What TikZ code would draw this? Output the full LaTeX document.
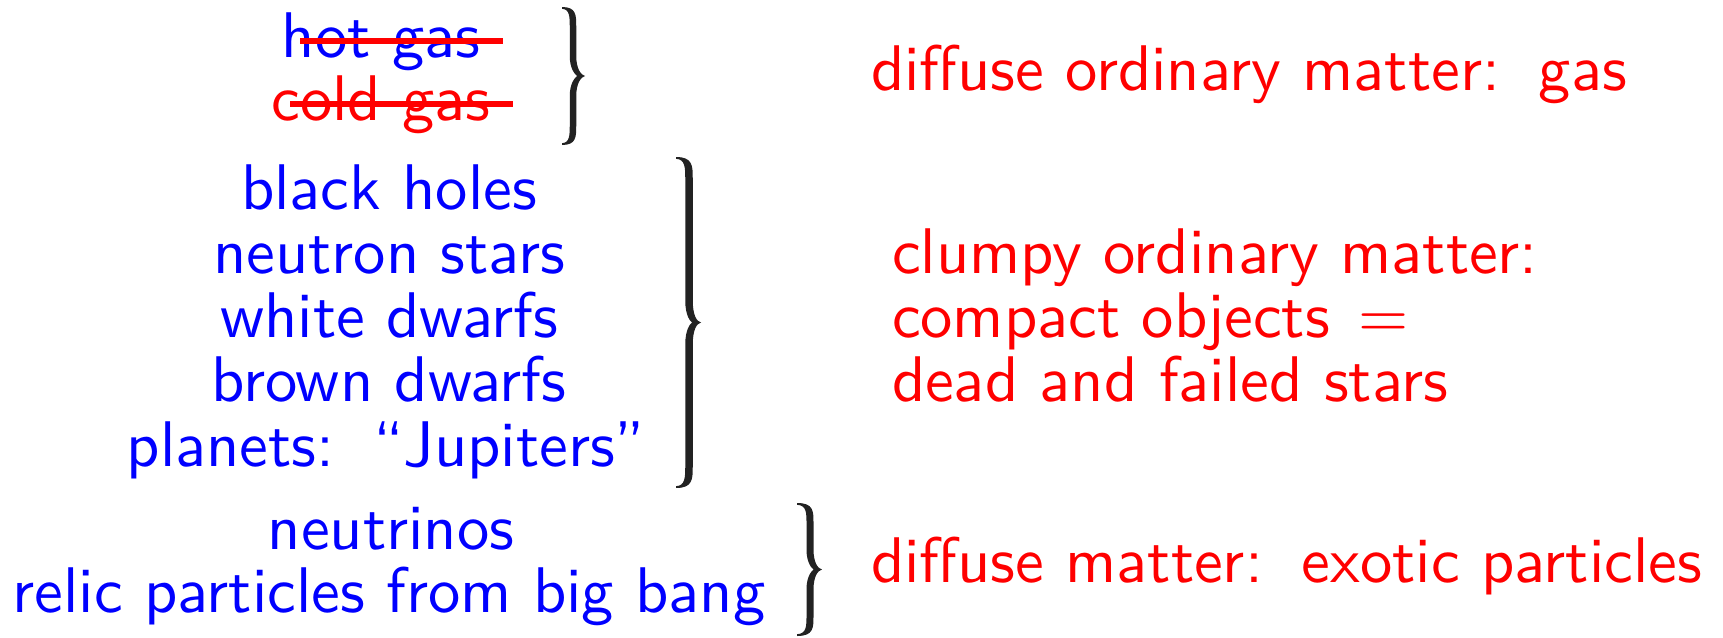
\documentclass[tikz,border=0pt]{standalone}
\font\sfbig="[lmsans10-regular]:+tlig;" at 64.5pt
\font\rmbig="[lmroman10-regular]:+tlig;" at 64.5pt
\definecolor{bracecol}{RGB}{34,34,34}
% #1 hook x, #2 stem centre x, #3 tip x, #4 top y, #5 bottom y, #6 stem width, #7 hook size
\newcommand\drawbrace[7]{%
 \fill[bracecol] (#1,#4)
   .. controls ({#2+#6/2},#4) and ({#2+#6/2},{#4+#7*0.4}) .. ({#2+#6/2},{#4+#7})
   -- ({#2+#6/2},{(#4+#5)/2-#7})
   .. controls ({#2+#6/2},{(#4+#5)/2-#7*0.35}) and ({#3-#6*0.6},{(#4+#5)/2-1}) .. (#3,{(#4+#5)/2})
   .. controls ({#3-#6*0.6},{(#4+#5)/2+1}) and ({#2+#6/2},{(#4+#5)/2+#7*0.35}) .. ({#2+#6/2},{(#4+#5)/2+#7})
   -- ({#2+#6/2},{#5-#7})
   .. controls ({#2+#6/2},{#5-#7*0.4}) and ({#2+#6/2},#5) .. (#1,#5)
   -- (#1,{#5-1.8})
   .. controls ({#2-#6/2},{#5-2.2}) and ({#2-#6/2},{#5-#7*0.5}) .. ({#2-#6/2},{#5-#7})
   -- ({#2-#6/2},{(#4+#5)/2+#7})
   .. controls ({#2-#6/2},{(#4+#5)/2+#7*0.3}) and ({#3-#6*1.4},{(#4+#5)/2+1}) .. ({#3-#6*1.2},{(#4+#5)/2})
   .. controls ({#3-#6*1.4},{(#4+#5)/2-1}) and ({#2-#6/2},{(#4+#5)/2-#7*0.3}) .. ({#2-#6/2},{(#4+#5)/2-#7})
   -- ({#2-#6/2},{#4+#7})
   .. controls ({#2-#6/2},{#4+#7*0.5}) and ({#2-#6/2},{#4+2.2}) .. (#1,{#4+1.8})
   -- cycle;}
\begin{document}
\begin{tikzpicture}[x=1pt,y=-1pt,
  txt/.style={font=\sfbig, inner sep=0pt, outer sep=0pt},
  item/.style={txt, text=blue, anchor=base},
  note/.style={txt, text=red, anchor=base west},
  strike/.style={red, line width=6pt}
]
\useasboundingbox (0,0) rectangle (1723,637);
% block 1
\node[item] (hot) at (381,57) {hot gas};
\node[item, text=red] (cold) at (381,120) {cold gas};
\coordinate (s1a) at (300,41); \coordinate (s1b) at (503,41);
\coordinate (s2a) at (290,104); \coordinate (s2b) at (513,104);
\draw[strike] (s1a) -- (s1b);
\draw[strike] (s2a) -- (s2b);
\drawbrace{562}{573}{585}{7}{145}{6.5}{20}
\node[note] (n1) at (871,90) {diffuse ordinary matter:\hspace{0.6em}gas};
% block 2
\node[item] (bh) at (389,209) {black holes};
\node[item] (ns) at (389,273) {neutron stars};
\node[item] (wd) at (389,337) {white dwarfs};
\node[item] (bd) at (389,401) {brown dwarfs};
\node[item] (pl) at (386,466) {planets:\hspace{0.6em}“Jupiters”};
\drawbrace{676}{689}{701}{157}{488}{7.5}{22}
\node[note] (n2a) at (892,273) {clumpy ordinary matter:};
\node[note] (n2b) at (892,337) {compact objects\hspace{0.45em}{\rmbig =}};
\node[note] (n2c) at (892,401) {dead and failed stars};
% block 3
\node[item] (nu) at (391,549) {neutrinos};
\node[item] (rp) at (389,612) {relic particles from big bang};
\drawbrace{797}{810}{822}{503}{636}{7}{20}
\node[note] (n3) at (871,582) {diffuse matter:\hspace{0.6em}exotic particles};
\end{tikzpicture}
\end{document}
